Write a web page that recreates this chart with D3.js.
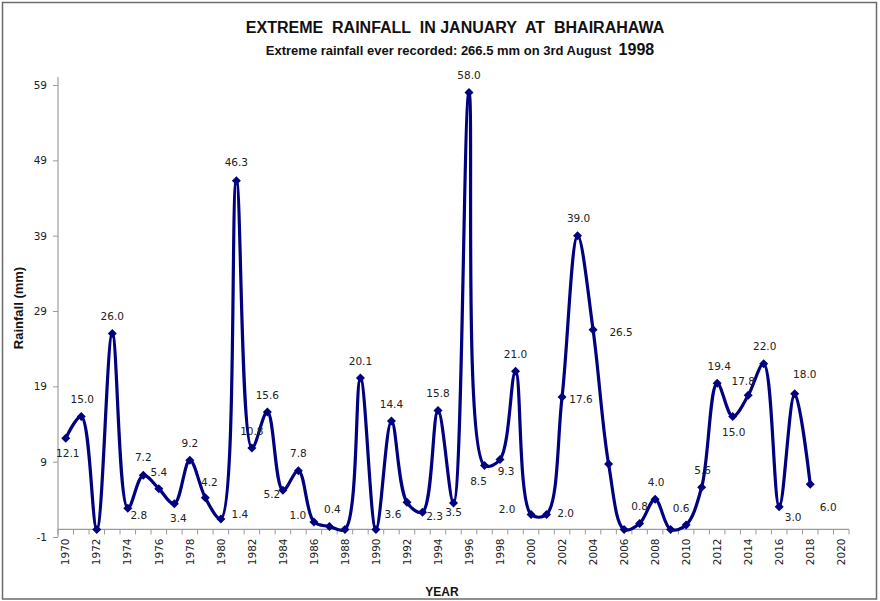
<!DOCTYPE html>
<html>
<head>
<meta charset="utf-8">
<script src="https://cdn.jsdelivr.net/npm/d3@7"></script>
<style>
  body { margin: 0; background: #fff; }
  svg text { white-space: pre; }
</style>
</head>
<body>
<svg id="svg" width="880" height="601"></svg>
<script>
// january extreme rainfall, one value per year
const years = d3.range(1970, 2019);
const rainfall = [
  12.1, 15.0, 0.0, 26.0, 2.8, 7.2, 5.4, 3.4, 9.2, 4.2,
  1.4, 46.3, 10.8, 15.6, 5.2, 7.8, 1.0, 0.4, 0.0, 20.1,
  0.0, 14.4, 3.6, 2.3, 15.8, 3.5, 58.0, 8.5, 9.3, 21.0,
  2.0, 2.0, 17.6, 39.0, 26.5, 8.7, 0.0, 0.8, 4.0, 0.0,
  0.6, 5.6, 19.4, 15.0, 17.8, 22.0, 3.0, 18.0, 6.0
];
// years without a printed label in the original
const unlabelled = [1972, 1988, 1990, 2005, 2006, 2009];
const yTicks = [-1, 9, 19, 29, 39, 49, 59];
const xLabelYears = d3.range(1970, 2021, 2);

// label nudge (px) from each point, same order as years
const labelNudge = [
  [2, 15], [1, -17], [0, 0], [0, -17], [11, 7], [0, -18], [0, -16], [4, 14], [0, -17], [4, -16],
  [19, -5], [0, -18], [0, -17], [0, -17], [-11, 4], [0, -17], [-16, -7], [3, -17], [0, 0], [0, -17],
  [0, 0], [0, -17], [-14, 12], [12, 4], [0, -17], [0, 9], [0, -17], [-6, 16], [6, 12], [0, -17],
  [-24, -5], [19, -1], [19, 2], [1, -17], [28, 2], [0, 0], [0, 0], [0, -17], [1, -17], [0, 0],
  [-5, -17], [1, -17], [2, -17], [1, 16], [-5, -14], [1, -17], [14, 10], [10, -20], [18, 23]
];

const svg = d3.select("svg");
const font = "'DejaVu Sans', Verdana, sans-serif";
const boldFont = "'Liberation Sans', Arial, sans-serif";

// frame
svg.append("rect")
  .attr("x", 2.5).attr("y", 2.5)
  .attr("width", 874).attr("height", 596.5)
  .attr("fill", "#fff")
  .attr("stroke", "#6b6b6b")
  .attr("stroke-width", 1.5);

// scales
const xScale = d3.scaleLinear().domain([1969.5, 2020.5]).range([58, 849]);
const yScale = d3.scaleLinear().domain([-1, 59]).range([537, 85]);

// y axis
const yAxis = svg.append("g")
  .attr("transform", "translate(58,0)")
  .call(d3.axisLeft(yScale).tickValues(yTicks).tickFormat(d => String(d))
    .tickSize(5).tickPadding(6).tickSizeOuter(0));
yAxis.select(".domain").attr("stroke", "#b3b3b3").attr("stroke-width", 1.5)
  .attr("d", `M0,${yScale(-1)}V77`);
yAxis.selectAll(".tick line").attr("stroke", "#9a9a9a");
yAxis.selectAll(".tick text")
  .attr("font-family", font).attr("font-size", 10.5).attr("fill", "#222");

// x axis sits on zero
const x0 = yScale(0);
const xAxis = svg.append("g").attr("transform", `translate(0,${x0})`);
xAxis.append("line")
  .attr("x1", xScale.range()[0]).attr("x2", xScale.range()[1])
  .attr("stroke", "#9a9a9a").attr("stroke-width", 1.2);
xAxis.selectAll(".xtick")
  .data(d3.range(1969.5, 2021, 1))
  .enter()
  .append("line")
  .attr("x1", d => xScale(d)).attr("x2", d => xScale(d))
  .attr("y1", 0).attr("y2", 5)
  .attr("stroke", "#9a9a9a");
xAxis.selectAll(".xlab")
  .data(xLabelYears)
  .enter()
  .append("text")
  .attr("transform", d => `translate(${xScale(d)},9) rotate(-90)`)
  .attr("text-anchor", "end")
  .attr("dy", "0.35em")
  .attr("font-family", font)
  .attr("font-size", 10.5)
  .attr("fill", "#222")
  .text(d => d);

// smoothed line
const points = years.map((yr, i) => ({ year: yr, value: rainfall[i], nudge: labelNudge[i] }));
const valueline = d3.line()
  .x(d => xScale(d.year))
  .y(d => yScale(d.value))
  .curve(d3.curveCatmullRom.alpha(0.5));

svg.append("path")
  .datum(points)
  .attr("d", valueline)
  .attr("fill", "none")
  .attr("stroke", "#000080")
  .attr("stroke-width", 3.2)
  .attr("stroke-linejoin", "round");

// diamond markers
svg.selectAll(".marker")
  .data(points)
  .enter()
  .append("path")
  .attr("transform", d => `translate(${xScale(d.year)},${yScale(d.value)})`)
  .attr("d", "M0,-4.5L4.5,0L0,4.5L-4.5,0Z")
  .attr("fill", "#000080");

// data labels
svg.selectAll(".dlabel")
  .data(points.filter(d => !unlabelled.includes(d.year)))
  .enter()
  .append("text")
  .attr("x", d => xScale(d.year) + d.nudge[0])
  .attr("y", d => yScale(d.value) + d.nudge[1])
  .attr("text-anchor", "middle")
  .attr("dy", "0.35em")
  .attr("font-family", font)
  .attr("font-size", 10.5)
  .attr("fill", "#222")
  .text(d => d.value.toFixed(1));

// titles
svg.append("text")
  .attr("x", 455).attr("y", 33)
  .attr("text-anchor", "middle")
  .attr("font-family", boldFont).attr("font-weight", "bold").attr("font-size", 16)
  .attr("fill", "#111")
  .text("EXTREME  RAINFALL  IN JANUARY  AT  BHAIRAHAWA");

const sub = svg.append("text")
  .attr("x", 460).attr("y", 55)
  .attr("text-anchor", "middle")
  .attr("font-family", boldFont).attr("font-weight", "bold").attr("font-size", 13)
  .attr("fill", "#111");
sub.append("tspan").text("Extreme rainfall ever recorded: 266.5 mm on 3rd August  ");
sub.append("tspan").attr("font-size", 16).text("1998");

// axis titles
svg.append("text")
  .attr("transform", "translate(23,308) rotate(-90)")
  .attr("text-anchor", "middle")
  .attr("font-family", boldFont).attr("font-weight", "bold").attr("font-size", 13)
  .attr("fill", "#111")
  .text("Rainfall (mm)");

svg.append("text")
  .attr("x", 442).attr("y", 596)
  .attr("text-anchor", "middle")
  .attr("font-family", boldFont).attr("font-weight", "bold").attr("font-size", 12)
  .attr("fill", "#111")
  .text("YEAR");
</script>
</body>
</html>
